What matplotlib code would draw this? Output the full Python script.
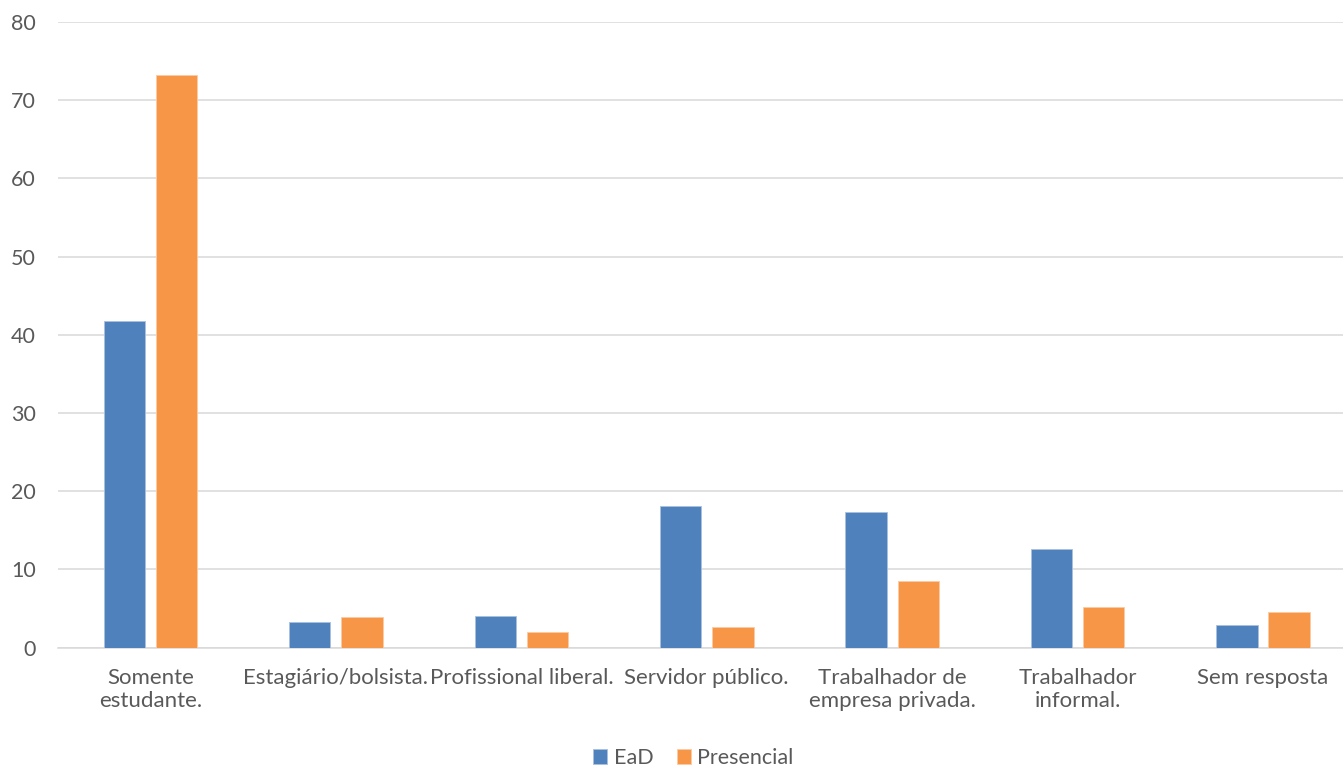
import matplotlib
matplotlib.use("Agg")
import matplotlib.pyplot as plt
import numpy as np

categorias = [
    "Somente\nestudante.",
    "Estagiário/bolsista.",
    "Profissional liberal.",
    "Servidor público.",
    "Trabalhador de\nempresa privada.",
    "Trabalhador\ninformal.",
    "Sem resposta",
]
ead = [41.8, 3.3, 4.0, 18.1, 17.3, 12.6, 2.85]
presencial = [73.2, 3.9, 1.95, 2.6, 8.45, 5.2, 4.55]
yticks = [0, 10, 20, 30, 40, 50, 60, 70, 80]

COR_EAD = "#4F81BD"
COR_PRES = "#F79646"
COR_TEXTO = "#595959"
COR_GRADE = "#D9D9D9"

plt.rcParams["font.family"] = ["Lato", "DejaVu Sans"]

W, H = 1343, 770
fig = plt.figure(figsize=(W / 100, H / 100), dpi=100)
# eixo vai um pouco além da borda direita, como no original
esq, dir_, base, topo = 57.8, 1355.7, 647.5, 22.0
ax = fig.add_axes([esq / W, 1 - base / H, (dir_ - esq) / W, (base - topo) / H])

x = np.arange(len(categorias))
largura = 0.223
desloc = 0.141
ax.bar(x - desloc, ead, largura, color=COR_EAD, edgecolor="#A9C0DE", linewidth=0.6, label="EaD", zorder=3)
ax.bar(x + desloc, presencial, largura, color=COR_PRES, edgecolor="#FBCBA3", linewidth=0.6, label="Presencial", zorder=3)

ax.set_xlim(-0.5, len(categorias) - 0.5)
ax.set_ylim(0, 80)
ax.set_yticks(yticks)
ax.set_xticks(x)
ax.set_xticklabels(categorias, fontsize=16, color=COR_TEXTO, linespacing=1.17)
ax.tick_params(axis="y", labelsize=15.5, labelcolor=COR_TEXTO, length=0, pad=16)
ax.tick_params(axis="x", length=0, pad=15)

ax.grid(True, axis="y", color=COR_GRADE, linewidth=1.1, zorder=0)
for lado in ["top", "right", "left"]:
    ax.spines[lado].set_visible(False)
ax.spines["bottom"].set_color(COR_GRADE)
ax.spines["bottom"].set_linewidth(1.1)

fig.legend(
    loc="center",
    bbox_to_anchor=(693.5 / W, 1 - 758 / H),
    ncol=2,
    frameon=False,
    fontsize=15.5,
    labelcolor=COR_TEXTO,
    handlelength=0.65,
    handleheight=0.65,
    handletextpad=0.3,
    columnspacing=1.1,
)

fig.savefig("out.png", dpi=100)
